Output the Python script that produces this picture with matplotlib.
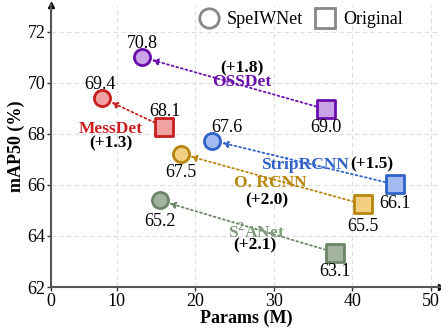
import matplotlib
matplotlib.use("Agg")
import matplotlib.pyplot as plt
from matplotlib.lines import Line2D

plt.rcParams['font.family'] = ['Liberation Serif', 'DejaVu Serif']
plt.rcParams['mathtext.fontset'] = 'custom'
plt.rcParams['mathtext.rm'] = 'Liberation Serif'
plt.rcParams['mathtext.bf'] = 'Liberation Serif:bold'

# method names, (params, mAP) for SpeIWNet (circles) and original (squares)
names = ['OSSDet', 'MessDet', 'StripRCNN', 'O. RCNN', r'S$^{\mathbf{2}}$ANet']
gains = ['(+1.8)', '(+1.3)', '(+1.5)', '(+2.0)', '(+2.1)']
new_x = [13.3, 8.2, 22.2, 18.2, 15.5]
new_y = [71.0, 69.4, 67.74, 67.22, 65.39]
old_x = [36.6, 16.0, 45.4, 41.4, 37.8]
old_y = [68.97, 68.28, 66.02, 65.24, 63.35]
new_lbl = ['70.8', '69.4', '67.6', '67.5', '65.2']
old_lbl = ['69.0', '68.1', '66.1', '65.5', '63.1']
edge = ['#6a0dad', '#c81e1e', '#2f63c8', '#b8860b', '#6b8566']
face = ['#c9a3e6', '#f0a2a2', '#a3bbf0', '#f3d081', '#a4b39e']
name_col = ['#6a0dad', '#c81e1e', '#2f63c8', '#b8860b', '#7f9a7a']

# label anchor positions (data coords)
new_lbl_pos = [(13.3, 71.56), (7.9, 69.92), (24.06, 68.24), (18.2, 66.49), (15.5, 64.57)]
old_lbl_pos = [(36.6, 68.24), (16.17, 68.86), (45.4, 65.28), (41.4, 64.38), (37.8, 62.59)]
name_pos = [(25.9, 70.02), (9.3, 68.2), (33.99, 66.8), (29.53, 66.06), (27.84, 64.14)]
gain_pos = [(25.9, 70.55), (9.3, 67.62), (42.5, 66.8), (29.15, 65.39), (27.62, 63.62)]

fig = plt.figure(figsize=(4.41, 3.29), dpi=100)
ax = fig.add_axes([51/441, 42/329, 390/441, 282/329])
x0 = 1.66
ax.set_xlim(x0, 51.3)
ax.set_ylim(62, 73.05)
ax.set_xticks([x0, 10, 20, 30, 40, 50])
ax.set_xticklabels(['0', '10', '20', '30', '40', '50'])
ax.set_yticks([62, 64, 66, 68, 70, 72])
ax.tick_params(labelsize=13, length=3, width=1, colors='#333333', labelcolor='black', pad=1)
ax.grid(True, linestyle=(0, (4, 3)), color='#dddddd', lw=0.8)
ax.set_axisbelow(True)
for s in ['top', 'right']:
    ax.spines[s].set_visible(False)
for s in ['left', 'bottom']:
    ax.spines[s].set_color('#555555')
    ax.spines[s].set_linewidth(1.5)
ax.plot(1, 0, '>', color='black', ms=5, transform=ax.transAxes, clip_on=False)
ax.plot(0, 1, '^', color='black', ms=5, transform=ax.transAxes, clip_on=False)
ax.set_xlabel('Params (M)', fontsize=13, fontweight='bold', labelpad=0)
ax.set_ylabel('mAP50 (%)', fontsize=13, fontweight='bold', labelpad=2)

fs = 13
for i in range(len(names)):
    ax.annotate('', xy=(new_x[i], new_y[i]), xytext=(old_x[i], old_y[i]),
                arrowprops=dict(arrowstyle='-|>,head_length=0.35,head_width=0.18', linestyle=':',
                                color=edge[i], lw=1.3, shrinkA=7, shrinkB=7), zorder=2)
    ax.scatter(new_x[i], new_y[i], s=135, marker='o', facecolor=face[i], edgecolor=edge[i], linewidth=2, zorder=3)
    ax.scatter(old_x[i], old_y[i], s=150, marker='s', facecolor=face[i], edgecolor=edge[i], linewidth=2, zorder=3)
    ax.text(*new_lbl_pos[i], new_lbl[i], ha='center', va='center', fontsize=fs)
    ax.text(*old_lbl_pos[i], old_lbl[i], ha='center', va='center', fontsize=fs)
    ax.text(*name_pos[i], names[i], color=name_col[i], fontsize=12.5, fontweight='bold',
            ha='center', va='center')
    ax.text(*gain_pos[i], gains[i], color='black', fontsize=12.5, fontweight='bold',
            ha='center', va='center')

handles = [Line2D([], [], marker='o', ls='', ms=14, mfc='white', mec='#888888', mew=2, label='SpeIWNet'),
           Line2D([], [], marker='s', ls='', ms=14, mfc='white', mec='#888888', mew=2, label='Original')]
ax.legend(handles=handles, loc='upper right', bbox_to_anchor=(0.925, 1.01), ncol=2, frameon=False,
          fontsize=13, handlelength=1.2, handletextpad=0.4, columnspacing=0.6, borderaxespad=0.1)

fig.savefig('out.png', dpi=100)
